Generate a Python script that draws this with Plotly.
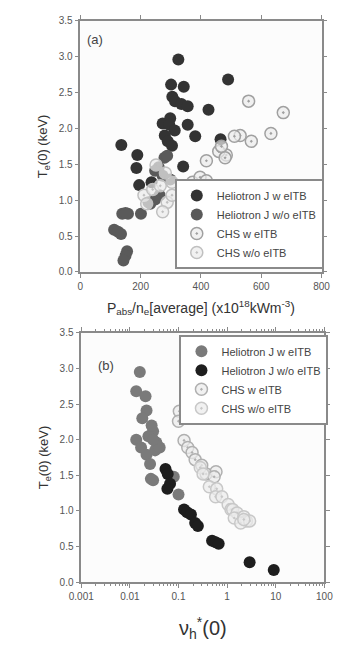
import plotly.graph_objects as go

# ---------- Panel (a) data ----------
a_hj_w_x = [325, 490, 301, 343, 305, 314, 335, 356, 425, 298, 273, 295, 356, 313, 381, 465, 280, 290, 304, 136, 189, 186, 195, 236, 341]
a_hj_w_y = [2.96, 2.68, 2.61, 2.58, 2.44, 2.38, 2.34, 2.31, 2.26, 2.14, 2.07, 2.05, 2.05, 1.97, 1.89, 1.85, 1.90, 1.82, 1.76, 1.77, 1.63, 1.45, 1.21, 1.25, 1.47]
a_hj_wo_x = [279, 288, 260, 248, 273, 298, 263, 248, 232, 226, 201, 139, 158, 150, 112, 125, 135, 155, 150, 143]
a_hj_wo_y = [1.59, 1.62, 1.46, 1.41, 1.34, 1.29, 1.07, 1.01, 0.95, 0.97, 0.81, 0.81, 0.81, 0.82, 0.59, 0.56, 0.53, 0.29, 0.23, 0.16]
a_chs_w_x = [558, 673, 632, 567, 530, 511, 484, 459, 468, 418, 480, 372, 397, 360, 418, 385]
a_chs_w_y = [2.38, 2.22, 1.93, 1.82, 1.90, 1.89, 1.63, 1.68, 1.75, 1.55, 1.59, 1.25, 1.32, 1.18, 1.27, 1.20]
a_chs_wo_x = [251, 282, 304, 288, 273, 304, 211, 220, 240, 265]
a_chs_wo_y = [1.49, 1.38, 1.25, 0.97, 0.84, 1.07, 1.07, 0.95, 1.15, 1.20]

# ---------- Panel (b) data ----------
b_hj_w_x = [0.016, 0.0135, 0.021, 0.022, 0.018, 0.030, 0.024, 0.0135, 0.035, 0.017, 0.022, 0.033, 0.041, 0.026, 0.027, 0.030, 0.080, 0.10, 0.028, 0.030]
b_hj_w_y = [2.95, 2.68, 2.61, 2.41, 2.30, 2.12, 2.05, 2.00, 1.96, 1.89, 1.79, 1.85, 1.89, 1.66, 1.45, 1.43, 1.48, 1.23, 2.20, 2.00]
b_hj_wo_x = [0.054, 0.060, 0.067, 0.059, 0.13, 0.15, 0.18, 0.22, 0.25, 0.49, 0.58, 0.67, 2.9, 9.1]
b_hj_wo_y = [1.59, 1.52, 1.38, 1.31, 1.02, 0.98, 0.95, 0.83, 0.79, 0.58, 0.56, 0.54, 0.28, 0.17]
b_chs_w_x = [0.104, 0.10, 0.13, 0.155, 0.19, 0.22, 0.30, 0.37, 0.59, 0.54]
b_chs_w_y = [2.40, 2.26, 1.99, 1.89, 1.82, 1.72, 1.64, 1.52, 1.55, 1.48]
b_chs_wo_x = [0.43, 0.61, 0.58, 0.78, 1.05, 1.2, 1.3, 1.6, 1.4, 2.2, 2.5, 1.9, 2.9, 2.2, 0.28, 0.32]
b_chs_wo_y = [1.34, 1.31, 1.20, 1.20, 1.09, 1.02, 1.02, 0.97, 0.90, 0.92, 0.86, 0.83, 0.86, 0.88, 1.61, 1.52]

names = ["Heliotron J w eITB", "Heliotron J w/o eITB", "CHS w eITB", "CHS w/o eITB"]

FONT = "Liberation Sans, Arial, sans-serif"
MS = 12

def solid(x, y, name, color, xa, ya, legend):
    return go.Scatter(x=x, y=y, mode="markers", name=name, xaxis=xa, yaxis=ya, legend=legend,
                      marker=dict(size=MS, color=color, line=dict(width=0)))

def ring(x, y, name, edge, xa, ya, legend):
    return go.Scatter(x=x, y=y, mode="markers", name=name, xaxis=xa, yaxis=ya, legend=legend,
                      marker=dict(size=MS, symbol="circle-dot", color="rgba(235,235,235,0.7)",
                                  line=dict(width=1.5, color=edge)))

fig = go.Figure()
fig.add_trace(solid(a_hj_w_x, a_hj_w_y, names[0], "#333333", "x", "y", "legend"))
fig.add_trace(solid(a_hj_wo_x, a_hj_wo_y, names[1], "#5a5a5a", "x", "y", "legend"))
fig.add_trace(ring(a_chs_w_x, a_chs_w_y, names[2], "#a0a0a0", "x", "y", "legend"))
fig.add_trace(ring(a_chs_wo_x, a_chs_wo_y, names[3], "#c0c0c0", "x", "y", "legend"))

fig.add_trace(solid(b_hj_w_x, b_hj_w_y, names[0], "#7a7a7a", "x2", "y2", "legend2"))
fig.add_trace(solid(b_hj_wo_x, b_hj_wo_y, names[1], "#1e1e1e", "x2", "y2", "legend2"))
fig.add_trace(ring(b_chs_w_x, b_chs_w_y, names[2], "#b0b0b0", "x2", "y2", "legend2"))
fig.add_trace(ring(b_chs_wo_x, b_chs_wo_y, names[3], "#c8c8c8", "x2", "y2", "legend2"))

W, H = 339, 650
axcommon = dict(showline=True, linecolor="#8a8a8a", linewidth=1.5, mirror="ticks",
                ticks="outside", ticklen=4, tickcolor="#8a8a8a", tickwidth=1.2,
                showgrid=False, zeroline=False,
                tickfont=dict(family=FONT, size=10, color="#555555"))

fig.update_layout(
    width=W, height=H, margin=dict(l=0, r=0, t=0, b=0),
    paper_bgcolor="white", plot_bgcolor="#fcfcfc",
    font=dict(family=FONT, color="#444444"),
    xaxis=dict(domain=[72/W, 330/W], range=[0, 800], dtick=200, anchor="y",
               title=dict(text="P<sub>abs</sub>/n<sub>e</sub>[average] (x10<sup>18</sup>kWm<sup>-3</sup>)",
                          font=dict(size=14, color="#333333"), standoff=12), **axcommon),
    yaxis=dict(domain=[1-271/H, 1-15/H], range=[0, 3.5], dtick=0.5, tickformat=".1f", anchor="x",
               title=dict(text="T<sub>e</sub>(0) (keV)", font=dict(size=13, color="#333333"), standoff=8),
               **axcommon),
    xaxis2=dict(domain=[73/W, 333/W], type="log", range=[-3, 2], anchor="y2",
                tickvals=[0.001, 0.01, 0.1, 1, 10, 100], ticktext=["0.001", "0.01", "0.1", "1", "10", "100"],
                minor=dict(ticks="outside", ticklen=2, tickcolor="#8a8a8a", dtick="D1"),
                title=dict(text="ν<sub>h</sub><sup>*</sup>(0)", font=dict(size=20, color="#333333"), standoff=20),
                **axcommon),
    yaxis2=dict(domain=[1-587/H, 1-333/H], range=[0, 3.5], dtick=0.5, tickformat=".1f", anchor="x2",
                title=dict(text="T<sub>e</sub>(0) (keV)", font=dict(size=13, color="#333333"), standoff=8),
                **axcommon),
    legend=dict(x=173/W, y=1-268/H, xanchor="left", yanchor="bottom", bgcolor="white",
                bordercolor="#8a8a8a", borderwidth=2, font=dict(size=11, color="#444444"),
                tracegroupgap=0, itemwidth=30),
    legend2=dict(x=178/W, y=1-335/H, xanchor="left", yanchor="top", bgcolor="white",
                 bordercolor="#8a8a8a", borderwidth=2, font=dict(size=11, color="#444444"),
                 tracegroupgap=0, itemwidth=30),
    annotations=[
        dict(text="(a)", x=0.02, y=0.925, xref="x domain", yref="y domain", showarrow=False,
             xanchor="left", yanchor="middle", font=dict(size=13, color="#444444")),
        dict(text="(b)", x=0.06, y=0.87, xref="x2 domain", yref="y2 domain", showarrow=False,
             xanchor="left", yanchor="middle", font=dict(size=13, color="#444444")),
    ],
)

fig.write_html("out.html")
